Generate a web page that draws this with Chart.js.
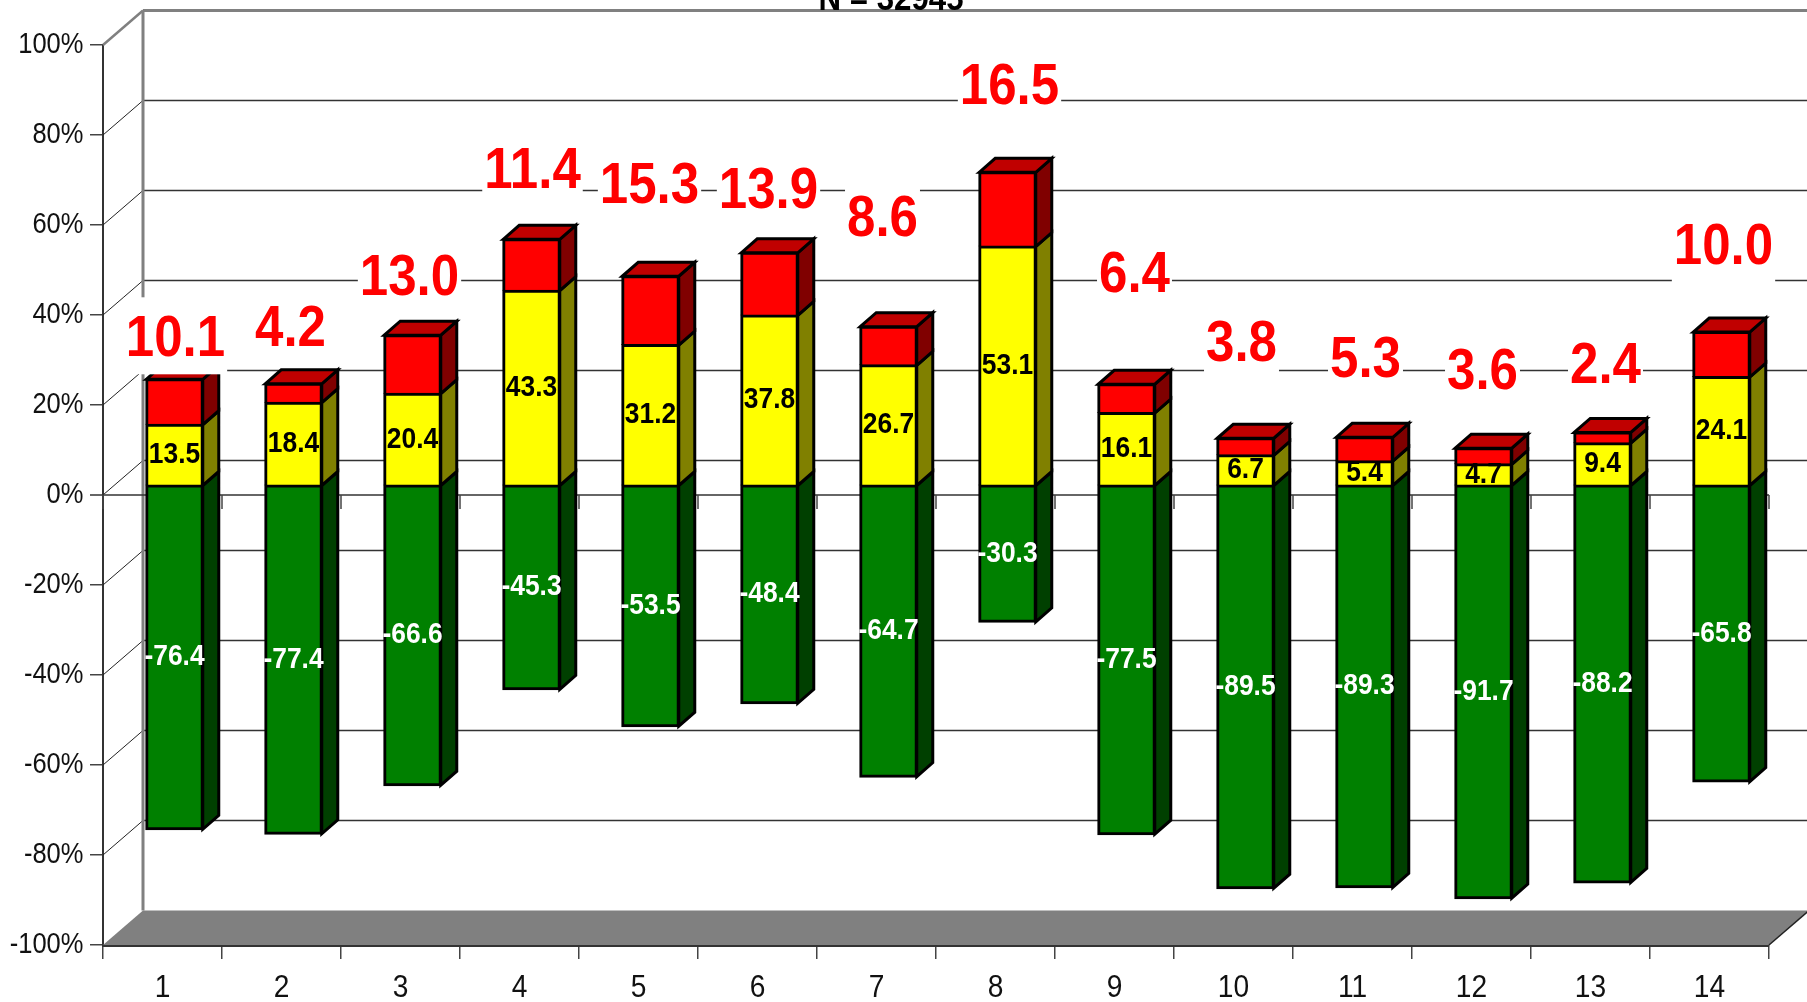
<!DOCTYPE html>
<html>
<head>
<meta charset="utf-8">
<title>Stacked bars</title>
<script src="https://cdn.jsdelivr.net/npm/chart.js@4"></script>
<style>
  html, body { margin: 0; padding: 0; background: #fff; overflow: hidden; }
  canvas { display: block; }
</style>
</head>
<body>
<canvas id="chart" width="1807" height="1002"></canvas>
<script>
(() => {
  'use strict';

  // ── Data ────────────────────────────────────────────────────────────────────

  const CATEGORIES = ['1', '2', '3', '4', '5', '6', '7', '8', '9', '10', '11', '12', '13', '14'];
  const GREEN  = [-76.4, -77.4, -66.6, -45.3, -53.5, -48.4, -64.7, -30.3, -77.5, -89.5, -89.3, -91.7, -88.2, -65.8];
  const YELLOW = [13.5, 18.4, 20.4, 43.3, 31.2, 37.8, 26.7, 53.1, 16.1, 6.7, 5.4, 4.7, 9.4, 24.1];
  const RED    = [10.1, 4.2, 13.0, 11.4, 15.3, 13.9, 8.6, 16.5, 6.4, 3.8, 5.3, 3.6, 2.4, 10.0];
  const TITLE  = 'N = 32945';

  // ── Look ────────────────────────────────────────────────────────────────────

  const FONT = '"Liberation Sans", Arial, sans-serif';
  const SQUEEZE = 0.88;                   // the original type is condensed
  const BAR_SHIFT = { x: 12, y: -9.5 };   // front of the bars relative to the axis plane
  const BAR_DEPTH = { x: 16, y: -14 };    // depth of a bar
  const WALL = { x: 40, y: -34.5 };       // back wall relative to the axis plane

  // red labels: [x from bar centre, lift above stack top], picked by eye
  const RED_LABEL_NUDGE = [
    [1, 44], [-3, 59], [-3, 61], [1, 72], [-1, 94], [-1, 66], [-6, 112],
    [2, 89], [8, 113], [-4, 98], [1, 81], [-1, 80], [3, 70], [2, 89],
  ];

  function poly(ctx, pts, fill, stroke, lw) {
    ctx.beginPath();
    pts.forEach((p, i) => (i ? ctx.lineTo(p[0], p[1]) : ctx.moveTo(p[0], p[1])));
    ctx.closePath();
    if (fill) { ctx.fillStyle = fill; ctx.fill(); }
    if (stroke) { ctx.strokeStyle = stroke; ctx.lineWidth = lw; ctx.lineJoin = 'miter'; ctx.stroke(); }
  }

  function line(ctx, x1, y1, x2, y2, color, lw) {
    ctx.beginPath();
    ctx.moveTo(x1, y1);
    ctx.lineTo(x2, y2);
    ctx.strokeStyle = color;
    ctx.lineWidth = lw;
    ctx.stroke();
  }

  function squeezedText(ctx, text, x, y) {
    ctx.save();
    ctx.translate(x, y);
    ctx.scale(SQUEEZE, 1);
    ctx.fillText(text, 0, 0);
    ctx.restore();
  }

  // ── Walls and floor ─────────────────────────────────────────────────────────

  const wallPlugin = {
    id: 'wall',
    beforeDatasetsDraw(chart) {
      const { ctx, scales: { x, y } } = chart;
      const l = x.left, r = x.right, b = y.bottom, t = y.top;
      ctx.save();
      // grid on the back wall + diagonals from each tick
      y.ticks.forEach(tick => {
        const py = y.getPixelForValue(tick.value);
        if (tick.value > -100 && tick.value < 100) {
          line(ctx, l + WALL.x, py + WALL.y, chart.width, py + WALL.y, '#333', 1.5);
          line(ctx, l, py, l + WALL.x, py + WALL.y, '#222', 1);
        }
      });
      // floor
      poly(ctx, [[l, b], [l + WALL.x, b + WALL.y], [chart.width + 2, b + WALL.y], [r, b]], '#808080');
      line(ctx, r, b, r + WALL.x, b + WALL.y, '#222', 1.5);
      // wall edges
      line(ctx, l + WALL.x, t + WALL.y, l + WALL.x, b + WALL.y, '#808080', 3);
      line(ctx, l + WALL.x, t + WALL.y, chart.width, t + WALL.y, '#808080', 3);
      line(ctx, l, t, l + WALL.x, t + WALL.y, '#808080', 2.5);
      // zero line with its hanging ticks
      const zero = y.getPixelForValue(0);
      line(ctx, l - 13, zero, r, zero, '#333', 1.5);
      for (let i = 0; i <= CATEGORIES.length; i++) {
        const px = l + (r - l) * i / CATEGORIES.length;
        line(ctx, px, zero, px, zero + 14, '#444', 1.5);
      }
      ctx.restore();

      // everything the bars draw sits slightly behind the axis plane
      ctx.save();
      ctx.translate(BAR_SHIFT.x, BAR_SHIFT.y);
      drawBarDepth(chart);
    },
    afterDatasetsDraw(chart) {
      const { ctx } = chart;
      ctx.restore();
      drawAxisText(chart);
      drawLabels(chart);
    },
  };

  // side faces of all the segments, top face of the top one
  function drawBarDepth(chart) {
    const { ctx } = chart;
    const sides = ['#004000', '#808000', '#800000'];
    chart.data.datasets.forEach((ds, d) => {
      chart.getDatasetMeta(d).data.forEach(bar => {
        const right = bar.x + bar.width / 2;
        const left = bar.x - bar.width / 2;
        const top = Math.min(bar.y, bar.base);
        const bot = Math.max(bar.y, bar.base);
        poly(ctx, [[right, top], [right + BAR_DEPTH.x, top + BAR_DEPTH.y],
                   [right + BAR_DEPTH.x, bot + BAR_DEPTH.y], [right, bot]], sides[d], '#000', 3);
        if (d === 2) {
          poly(ctx, [[left, top], [left + BAR_DEPTH.x, top + BAR_DEPTH.y],
                     [right + BAR_DEPTH.x, top + BAR_DEPTH.y], [right, top]], '#c00000', '#000', 3);
        }
      });
    });
  }

  // ── Text ────────────────────────────────────────────────────────────────────

  // tick labels come from the scales but need the condensed look
  function drawAxisText(chart) {
    const { ctx, scales: { x, y } } = chart;
    ctx.save();
    ctx.fillStyle = '#111';
    ctx.font = `29px ${FONT}`;
    ctx.textBaseline = 'alphabetic';
    ctx.textAlign = 'right';
    y.ticks.forEach(tick => {
      squeezedText(ctx, `${tick.value}%`, 83.5, y.getPixelForValue(tick.value) + 8);
    });
    ctx.font = `32px ${FONT}`;
    ctx.textAlign = 'center';
    x.ticks.forEach((tick, i) => {
      squeezedText(ctx, CATEGORIES[i], x.getPixelForTick(i), y.bottom + 52);
    });
    ctx.restore();
  }

  function drawLabels(chart) {
    const { ctx } = chart;
    const [green, yellow, red] = [0, 1, 2].map(d => chart.getDatasetMeta(d).data);
    ctx.save();
    ctx.textAlign = 'center';
    ctx.textBaseline = 'alphabetic';

    red.forEach((bar, i) => {
      const cx = bar.x + BAR_SHIFT.x + RED_LABEL_NUDGE[i][0];
      const cy = bar.y + BAR_SHIFT.y - RED_LABEL_NUDGE[i][1];
      const text = RED[i].toFixed(1);
      ctx.font = `bold 58px ${FONT}`;
      const w = ctx.measureText(text).width * SQUEEZE;
      ctx.fillStyle = '#fff';
      ctx.fillRect(cx - w / 2 - 2, cy - 38, w + 4, 77);
      ctx.fillStyle = '#f00';
      squeezedText(ctx, text, cx, cy + 21);
    });

    ctx.font = `bold 30px ${FONT}`;
    yellow.forEach((bar, i) => {
      ctx.fillStyle = '#000';
      squeezedText(ctx, YELLOW[i].toFixed(1), bar.x + BAR_SHIFT.x, (bar.y + bar.base) / 2 + BAR_SHIFT.y + 8);
    });
    green.forEach((bar, i) => {
      ctx.fillStyle = '#fff';
      squeezedText(ctx, GREEN[i].toFixed(1), bar.x + BAR_SHIFT.x, (bar.y + bar.base) / 2 + BAR_SHIFT.y + 8);
    });

    // title is cut by the top of the page in the original
    ctx.font = `bold 35.5px ${FONT}`;
    ctx.fillStyle = '#000';
    squeezedText(ctx, TITLE, 891, 9.5);
    ctx.restore();
  }

  // ── Chart ───────────────────────────────────────────────────────────────────

  function dataset(label, data, color, borderWidth) {
    return {
      label,
      data,
      backgroundColor: color,
      borderColor: '#000',
      borderWidth,
      borderSkipped: false,
      inflateAmount: 1,
      barPercentage: 0.475,
      categoryPercentage: 1,
    };
  }

  new Chart(document.getElementById('chart'), {
    type: 'bar',
    data: {
      labels: CATEGORIES,
      datasets: [
        dataset('Green', GREEN, '#008000', 3),
        dataset('Yellow', YELLOW, '#ffff00', { top: 3, left: 3, right: 3, bottom: 0 }),
        dataset('Red', RED, '#ff0000', { top: 3, left: 3, right: 3, bottom: 0 }),
      ],
    },
    options: {
      responsive: false,
      animation: false,
      devicePixelRatio: 1,
      layout: { padding: { top: 45, right: 38, left: 0, bottom: 0 } },
      plugins: { legend: { display: false }, tooltip: { enabled: false } },
      scales: {
        x: {
          stacked: true,
          offset: true,
          afterFit: s => { s.height = 57; },
          grid: { drawOnChartArea: false, offset: true, tickLength: 14, color: '#444', lineWidth: 1.5 },
          border: { color: '#333', width: 3 },
          ticks: { display: false },
        },
        y: {
          stacked: true,
          min: -100,
          max: 100,
          afterFit: s => { s.width = 103; },
          grid: {
            drawOnChartArea: false,
            tickLength: 13,
            color: '#444',
            // no width at zero, otherwise the library opens a gap between the stacks
            lineWidth: c => (c.tick && c.tick.value === 0 ? 0 : 1.5),
          },
          border: { color: '#333', width: 2 },
          ticks: { stepSize: 20, display: false },
        },
      },
    },
    plugins: [wallPlugin],
  });
})();
</script>
</body>
</html>
